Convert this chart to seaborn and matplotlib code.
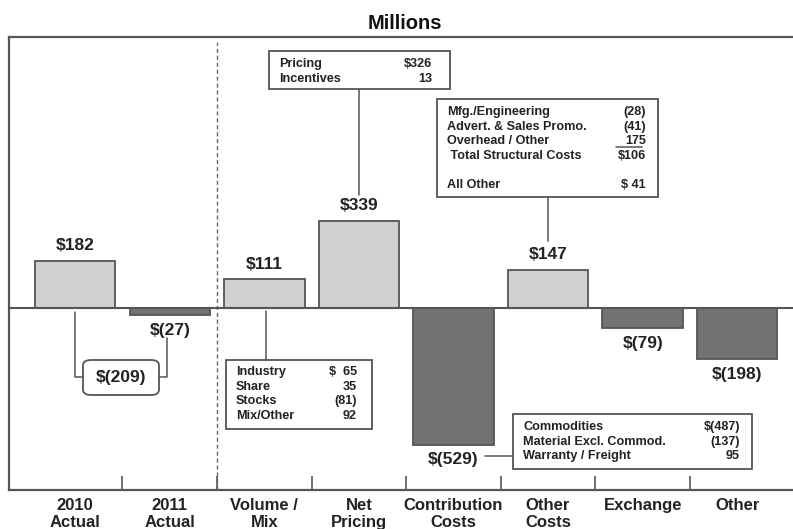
import matplotlib.pyplot as plt
import seaborn as sns
import pandas as pd
from matplotlib.patches import Rectangle, FancyBboxPatch
from matplotlib.lines import Line2D

categories = ["2010\nActual", "2011\nActual", "Volume /\nMix", "Net\nPricing",
              "Contribution\nCosts", "Other\nCosts", "Exchange", "Other"]
values = [182, -27, 111, 339, -529, 147, -79, -198]

pricing_items = ["Pricing", "Incentives"]
pricing_vals = ["$326", "13"]
struct_items = ["Mfg./Engineering", "Advert. & Sales Promo.", "Overhead / Other",
                " Total Structural Costs", "", "All Other"]
struct_vals = ["(28)", "(41)", "175", "$106", "", "$ 41"]
volume_items = ["Industry", "Share", "Stocks", "Mix/Other"]
volume_vals = ["$  65", "35", "(81)", "92"]
contrib_items = ["Commodities", "Material Excl. Commod.", "Warranty / Freight"]
contrib_vals = ["$(487)", "(137)", "95"]
change_label = "$(209)"

def money(v):
    return f"${v}" if v >= 0 else f"$({-v})"

sns.set_style("white")
plt.rcParams["font.family"] = ["Liberation Sans", "DejaVu Sans"]
plt.rcParams["font.weight"] = "bold"

W, H = 793, 529
fig = plt.figure(figsize=(W / 100, H / 100), dpi=100)
ax = fig.add_axes([9 / W, (H - 490) / H, (W - 9) / W, (490 - 37) / H])

df = pd.DataFrame({"cat": categories, "val": values})
light, dark, edge = "#d0d0d0", "#727272", "#555555"
colors = [light if v >= 0 else dark for v in values]
sns.barplot(data=df, x="cat", y="val", hue="cat", palette=colors, legend=False,
            width=0.85, edgecolor=edge, linewidth=1.3, saturation=1, ax=ax)

ax.set_xlim(-0.70, 7.59)
ax.set_ylim(-705, 1050)
ax.axhline(0, color=edge, lw=1.5, zorder=3)

for i, v in enumerate(values):
    off = 11 if v >= 0 else -11
    ax.annotate(money(v), (i, v), xytext=(0, off), textcoords="offset points",
                ha="center", va="center", fontsize=12.5, fontweight="bold", color="#222222")

# frame
for s in ["top", "left", "bottom"]:
    ax.spines[s].set_color(edge)
    ax.spines[s].set_linewidth(1.6)
ax.spines["right"].set_visible(False)
ax.set_yticks([])
ax.set_xticks([i + 0.5 for i in range(7)])
ax.set_xticklabels([])
ax.tick_params(axis="x", direction="in", length=10, width=1.2, color=edge, bottom=True)
ax.set_xlabel("")
ax.set_ylabel("")
for i, c in enumerate(categories):
    ax.text(i, -737, c, ha="center", va="top", fontsize=12, fontweight="bold",
            color="#222222", linespacing=1.15, clip_on=False)

ax.axvline(1.5, ymax=(490 - 42) / (490 - 37), color="#666666", lw=1, ls=(0, (3, 2)))

ax.set_title("Millions", fontsize=14.5, fontweight="bold", pad=6, color="#111111", x=0.505)

# annotation helpers in figure pixel coords (top-left origin)
def P(x, y):
    return (x / W, 1 - y / H)

def line(xs, ys):
    fig.add_artist(Line2D([x / W for x in xs], [1 - y / H for y in ys],
                          transform=fig.transFigure, color=edge, lw=1.1))

def box(x0, y0, x1, y1, round_=False):
    if round_:
        p = FancyBboxPatch(P(x0, y1), (x1 - x0) / W, (y1 - y0) / H,
                           boxstyle="round,pad=0,rounding_size=0.01",
                           transform=fig.transFigure, fc="white", ec=edge, lw=1.3)
    else:
        p = Rectangle(P(x0, y1), (x1 - x0) / W, (y1 - y0) / H,
                      transform=fig.transFigure, fc="white", ec=edge, lw=1.3)
    fig.add_artist(p)

def table(items, vals, xl, xr, y0, dy, fs=9.1):
    for k, (a, b) in enumerate(zip(items, vals)):
        y = y0 + k * dy
        fig.text(*P(xl, y), a, ha="left", va="center", fontsize=fs, fontweight="bold", color="#222222")
        fig.text(*P(xr, y), b, ha="right", va="center", fontsize=fs, fontweight="bold", color="#222222")

# pricing box
box(269, 51, 450, 89)
table(pricing_items, pricing_vals, 279, 432, 64, 14.5)
line([359, 359], [89, 195])

# structural costs box
box(437, 99, 658, 197)
table(struct_items, struct_vals, 447, 646, 112, 14.6)
line([616, 642], [146.5, 146.5])
line([548, 548], [197, 241])

# volume box
box(226, 360, 372, 429)
table(volume_items, volume_vals, 236, 357, 372, 14.7)
line([266, 266], [311, 360])

# change 2010 -> 2011
line([75, 75, 83], [312, 377, 377])
line([159, 167, 167], [377, 377, 338])
box(83, 360, 159, 395, round_=True)
fig.text(*P(121, 377.5), change_label, ha="center", va="center", fontsize=12.5,
         fontweight="bold", color="#222222")

# contribution box
box(513, 414, 752, 469)
table(contrib_items, contrib_vals, 523, 740, 427, 14.6)
line([485, 513], [456, 456])

fig.savefig("out.png", dpi=100)
